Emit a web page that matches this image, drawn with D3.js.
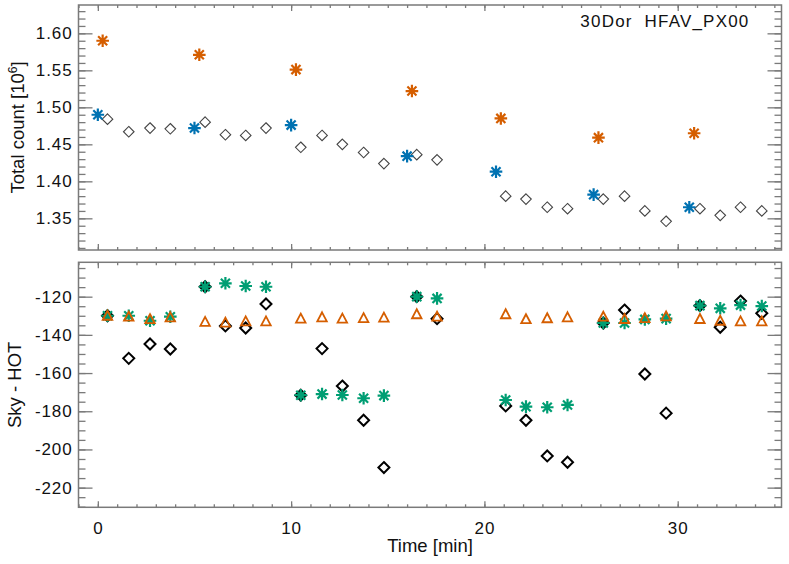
<!DOCTYPE html>
<html><head><meta charset="utf-8">
<script src="https://cdn.jsdelivr.net/npm/d3@7"></script>
<style>
html,body{margin:0;padding:0;background:#fff;}
svg text{font-family:"Liberation Sans",Arial,Helvetica,sans-serif;fill:#111;}
</style></head>
<body><svg id="c" width="789" height="564"></svg>
<script>
// ---------- data ----------
const diamondTimes = [0.5,1.6,2.7,3.75,5.55,6.6,7.65,8.7,10.5,11.6,12.65,13.75,14.8,16.5,17.55,21.1,22.15,23.25,24.3,26.15,27.25,28.3,29.4,31.15,32.2,33.25,34.35];
const totalDiamond = [1.484,1.467,1.472,1.471,1.480,1.463,1.462,1.472,1.446,1.462,1.450,1.439,1.424,1.436,1.429,1.380,1.376,1.365,1.363,1.376,1.380,1.360,1.346,1.363,1.354,1.365,1.360];
const blueTimes = [0.0,5.0,10.0,16.0,20.6,25.65,30.6];
const blueTotal = [1.490,1.472,1.476,1.434,1.413,1.382,1.365];
const orangeTimes = [0.25,5.25,10.25,16.25,20.85,25.9,30.85];
const orangeTotal = [1.590,1.571,1.551,1.522,1.485,1.459,1.465];
const skyHotDiamond = [-130,-152.3,-144.8,-147.4,-114.8,-135.3,-136.4,-123.8,-171.6,-147.2,-166.8,-184.7,-209.5,-120.0,-131.5,-177.2,-184.7,-203.4,-206.7,-133.8,-127.0,-160.5,-181.0,-124.7,-136.0,-122.3,-128.7];
const skyHotGreen = [-130,-130,-132.6,-130.5,-114.8,-113.0,-114.4,-114.8,-171.6,-171.0,-171.5,-173.2,-171.8,-120.0,-120.9,-174.1,-177.6,-177.9,-176.7,-133.8,-133.8,-131.9,-131.5,-124.7,-126.1,-124.4,-124.9];
const skyHotTriangle = [-130,-130.5,-131.8,-130.8,-133.2,-133.6,-132.9,-132.9,-131.5,-130.8,-131.5,-131.2,-131.0,-129.2,-130.5,-129.2,-131.8,-131.3,-130.8,-130.5,-131.7,-131.2,-130.3,-131.7,-132.6,-132.9,-132.9];
const xTickLabels = [0,10,20,30];
const topTickLabels = [1.35,1.40,1.45,1.50,1.55,1.60];
const botTickLabels = [-220,-200,-180,-160,-140,-120];
const titleText = "30Dor  HFAV_PX00";

// ---------- layout ----------
const svg = d3.select("#c");
const L = 78.5, R = 781.5;
const topP = {t:5, b:250}, botP = {t:262.3, b:507.3};
const axisCol = "#7a7a7a";
const cOrange="#d55e00", cBlue="#0072b2", cGreen="#009e73";
const loc = d3.formatLocale({decimal:".",thousands:",",grouping:[3],currency:["",""],minus:"-"});

const x = d3.scaleLinear().domain([-1,35.37]).range([L,R]);
const yT = d3.scaleLinear().domain([1.3072,1.6383]).range([topP.b,topP.t]);
const yB = d3.scaleLinear().domain([-230.3,-102]).range([botP.b,botP.t]);

const xMinor = d3.range(-1,36,1);
const yTMinor = d3.range(131,164,1).map(v=>v/100);
const yBMinor = d3.range(-230,-100,5);

function frame(y, p, yMajor, yMinorVals, yFmt, showX){
  const g = svg.append("g");
  const styleAx = s => { s.select(".domain").remove(); s.selectAll("line").attr("stroke",axisCol).attr("stroke-width",1.3); };
  const styleTxt = s => s.attr("font-size",17).attr("letter-spacing","0.9px").attr("fill","#111").style("font-family",'"Liberation Sans",Arial,sans-serif');
  g.append("g").attr("transform",`translate(${L},0)`)
    .call(d3.axisLeft(y).tickValues(yMajor).tickSizeInner(-14).tickSizeOuter(0).tickPadding(20).tickFormat(yFmt))
    .call(styleAx)
    .call(s=>s.selectAll("text").attr("x",-6).call(styleTxt));
  g.append("g").attr("transform",`translate(${L},0)`)
    .call(d3.axisLeft(y).tickValues(yMinorVals).tickSizeInner(-7).tickSizeOuter(0).tickFormat(""))
    .call(styleAx);
  g.append("g").attr("transform",`translate(${R},0)`)
    .call(d3.axisRight(y).tickValues(yMajor).tickSizeInner(-14).tickSizeOuter(0).tickFormat(""))
    .call(styleAx);
  g.append("g").attr("transform",`translate(${R},0)`)
    .call(d3.axisRight(y).tickValues(yMinorVals).tickSizeInner(-7).tickSizeOuter(0).tickFormat(""))
    .call(styleAx);
  g.append("g").attr("transform",`translate(0,${p.b})`)
    .call(d3.axisBottom(x).tickValues(xTickLabels).tickSizeInner(-6).tickSizeOuter(0).tickFormat(showX? loc.format("d") : ""))
    .call(styleAx)
    .call(s=>s.selectAll("text").attr("y",15).attr("dy","0.71em").call(styleTxt));
  g.append("g").attr("transform",`translate(0,${p.b})`)
    .call(d3.axisBottom(x).tickValues(xMinor).tickSizeInner(-3).tickSizeOuter(0).tickFormat(""))
    .call(styleAx);
  g.append("g").attr("transform",`translate(0,${p.t})`)
    .call(d3.axisTop(x).tickValues(xTickLabels).tickSizeInner(-6).tickSizeOuter(0).tickFormat(""))
    .call(styleAx);
  g.append("g").attr("transform",`translate(0,${p.t})`)
    .call(d3.axisTop(x).tickValues(xMinor).tickSizeInner(-3).tickSizeOuter(0).tickFormat(""))
    .call(styleAx);
  g.append("rect").attr("x",L).attr("y",p.t).attr("width",R-L).attr("height",p.b-p.t)
    .attr("fill","none").attr("stroke",axisCol).attr("stroke-width",1.5);
}
frame(yT, topP, topTickLabels, yTMinor, loc.format(".2f"), false);
frame(yB, botP, botTickLabels, yBMinor, loc.format("d"), true);

// ---------- symbols ----------
function asterisk(r){
  const d = r*0.72;
  return `M${-r},0L${r},0M0,${-r}L0,${r}M${-d},${-d}L${d},${d}M${-d},${d}L${d},${-d}`;
}
function diamond(r){ return `M0,${-r}L${r},0L0,${r}L${-r},0Z`; }
function triangle(r){ return `M0,${-r}L${r*0.95},${r*0.8}L${-r*0.95},${r*0.8}Z`; }

// top panel
const gT = svg.append("g");
gT.selectAll(".td").data(diamondTimes.map((t,i)=>[t,totalDiamond[i]])).join("path")
  .attr("d",diamond(5.3)).attr("transform",d=>`translate(${x(d[0])},${yT(d[1])})`)
  .attr("fill","none").attr("stroke","#444").attr("stroke-width",1.1);
gT.selectAll(".tb").data(blueTimes.map((t,i)=>[t,blueTotal[i]])).join("path")
  .attr("d",asterisk(6.3)).attr("transform",d=>`translate(${x(d[0])},${yT(d[1])})`)
  .attr("fill","none").attr("stroke",cBlue).attr("stroke-width",2.2);
gT.selectAll(".to").data(orangeTimes.map((t,i)=>[t,orangeTotal[i]])).join("path")
  .attr("d",asterisk(6.3)).attr("transform",d=>`translate(${x(d[0])},${yT(d[1])})`)
  .attr("fill","none").attr("stroke",cOrange).attr("stroke-width",2.2);

// bottom panel
const gB = svg.append("g");
gB.selectAll(".bd").data(diamondTimes.map((t,i)=>[t,skyHotDiamond[i],skyHotGreen[i]])).join("path")
  .attr("d",diamond(5.5)).attr("transform",d=>`translate(${x(d[0])},${yB(d[1])})`)
  .attr("fill",d=>Math.abs(d[1]-d[2])<0.5? "#0b7d5c":"none").attr("stroke","#000").attr("stroke-width",2);
gB.selectAll(".bg").data(diamondTimes.map((t,i)=>[t,skyHotGreen[i]])).join("path")
  .attr("d",asterisk(6.3)).attr("transform",d=>`translate(${x(d[0])},${yB(d[1])})`)
  .attr("fill","none").attr("stroke",cGreen).attr("stroke-width",2.2);
gB.selectAll(".bt").data(diamondTimes.map((t,i)=>[t,skyHotTriangle[i]])).join("path")
  .attr("d",triangle(5)).attr("transform",d=>`translate(${x(d[0])},${yB(d[1])})`)
  .attr("fill","none").attr("stroke",cOrange).attr("stroke-width",1.8);

// ---------- texts ----------
svg.append("text").attr("x",749.5).attr("y",27).attr("text-anchor","end")
  .attr("font-size",17).attr("letter-spacing","1.2px").style("white-space","pre").text(titleText);

const yl1 = svg.append("text").attr("transform",`translate(23.5,${(topP.t+topP.b)/2}) rotate(-90)`)
  .attr("text-anchor","middle").attr("font-size",18.5);
yl1.append("tspan").text("Total count [10");
yl1.append("tspan").attr("font-size",12).attr("dy",-7).text("6");
yl1.append("tspan").attr("dy",7).text("]");

svg.append("text").attr("transform",`translate(21,${(botP.t+botP.b)/2}) rotate(-90)`)
  .attr("text-anchor","middle").attr("font-size",18.5).text("Sky - HOT");

svg.append("text").attr("x",(L+R)/2).attr("y",551.5).attr("text-anchor","middle")
  .attr("font-size",18.5).text("Time [min]");
</script></body></html>
